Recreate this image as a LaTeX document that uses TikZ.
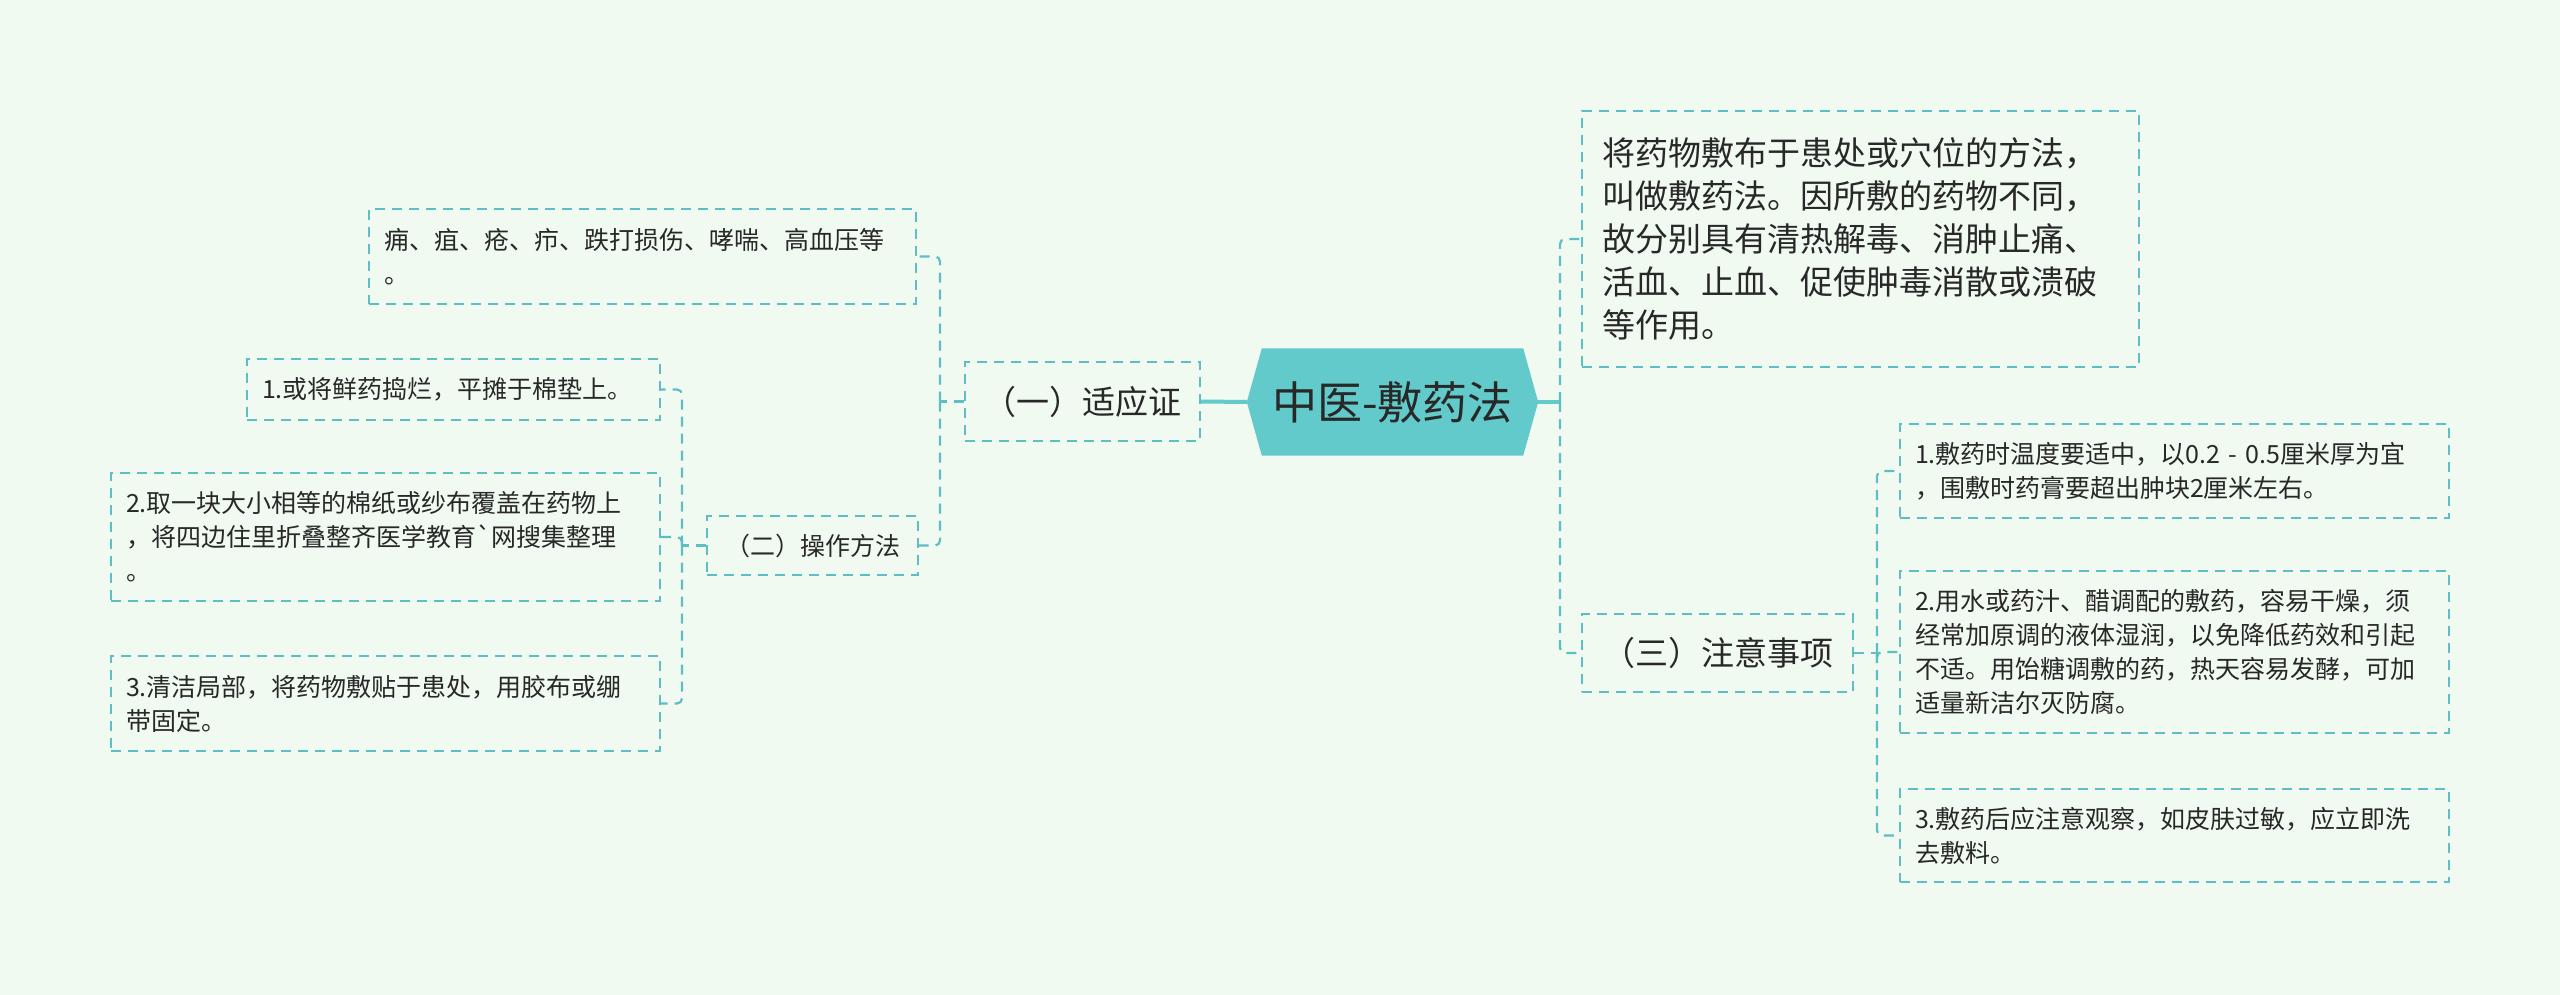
\documentclass[tikz,border=0pt]{standalone}
\usepackage{fontspec}
\setmainfont{Noto Sans CJK SC}
\usetikzlibrary{calc}
\definecolor{bgc}{RGB}{240,250,241}
\definecolor{hexc}{RGB}{99,202,204}
\definecolor{linec}{RGB}{94,190,196}
\definecolor{txtc}{RGB}{40,40,40}
\pgfdeclarelayer{bglayer}
\pgfsetlayers{bglayer,main}
\tikzset{
  dbox/.style={draw=linec, line width=2.2pt, dash pattern=on 10pt off 7pt, text=txtc, inner xsep=15pt, inner ysep=0pt, align=left, anchor=center},
  smalltxt/.style={font=\fontsize{25pt}{34pt}\selectfont},
  bigtxt/.style={font=\fontsize{33pt}{43pt}\selectfont},
  conn/.style={draw=linec, line width=2.2pt, dash pattern=on 10pt off 7pt, rounded corners=5pt},
  solidconn/.style={draw=hexc, line width=4pt},
}
\begin{document}
\begin{tikzpicture}[x=1pt,y=-1pt]
\useasboundingbox (0,0) rectangle (2560,995);
% root
\node[text=txtc, font=\fontsize{45pt}{54pt}\selectfont, minimum width=291pt, minimum height=107pt, inner sep=0pt] (root) at (1392.5,402) {中医-敷药法};
% left side
\node[dbox,bigtxt,text width=205pt,minimum height=79pt,align=center] (c1) at (1082.5,401.5) {（一）适应证};
\node[dbox,smalltxt,text width=517pt,minimum height=95pt] (yong) at (642.5,256.5) {痈、疽、疮、疖、跌打损伤、哮喘、高血压等\\。};
\node[dbox,smalltxt,text width=181pt,minimum height=59pt,align=center] (op) at (812.5,545.5) {（二）操作方法};
\node[dbox,smalltxt,text width=383pt,minimum height=61pt] (i1) at (453.5,389.5) {1.或将鲜药捣烂，平摊于棉垫上。};
\node[dbox,smalltxt,text width=519pt,minimum height=128pt] (i2) at (385.5,537) {2.取一块大小相等的棉纸或纱布覆盖在药物上\\，将四边住里折叠整齐医学教育\textasciigrave{}网搜集整理\\。};
\node[dbox,smalltxt,text width=519pt,minimum height=95pt] (i3) at (385.5,703.5) {3.清洁局部，将药物敷贴于患处，用胶布或绷\\带固定。};
% right side
\node[dbox,bigtxt,inner xsep=20pt,text width=517pt,minimum height=256pt] (desc) at (1860.5,239) {将药物敷布于患处或穴位的方法，\\叫做敷药法。因所敷的药物不同，\\故分别具有清热解毒、消肿止痛、\\活血、止血、促使肿毒消散或溃破\\等作用。};
\node[dbox,bigtxt,text width=241pt,minimum height=78pt,align=center] (c3) at (1717.5,653) {（三）注意事项};
\node[dbox,smalltxt,text width=519pt,minimum height=94pt] (r1) at (2174.5,471) {1.敷药时温度要适中，以0.2 - 0.5厘米厚为宜\\，围敷时药膏要超出肿块2厘米左右。};
\node[dbox,smalltxt,text width=519pt,minimum height=162pt] (r2) at (2174.5,652) {2.用水或药汁、醋调配的敷药，容易干燥，须\\经常加原调的液体湿润，以免降低药效和引起\\不适。用饴糖调敷的药，热天容易发酵，可加\\适量新洁尔灭防腐。};
\node[dbox,smalltxt,text width=519pt,minimum height=93pt] (r3) at (2174.5,835.5) {3.敷药后应注意观察，如皮肤过敏，应立即洗\\去敷料。};
% junctions
\coordinate (jL) at (940,401.5);
\coordinate (jO) at (682,545.5);
\coordinate (jR) at (1560,402);
\coordinate (jR2) at (1877,653);
% background and hexagon
\begin{pgfonlayer}{bglayer}
\fill[bgc] (0,0) rectangle (2560,995);
\fill[hexc] (root.west) -- ($(root.north west)+(15,0)$) -- ($(root.north east)+(-15,0)$) -- (root.east) -- ($(root.south east)+(-15,0)$) -- ($(root.south west)+(15,0)$) -- cycle;
\end{pgfonlayer}
% connectors
\draw[solidconn] (c1.east) -- (root.west);
\draw[solidconn] (root.east) -- (jR);
\draw[conn] (c1.west) -- (jL);
\draw[conn] (jL) |- (yong.east);
\draw[conn] (jL) |- (op.east);
\draw[conn] (op.west) -- (jO);
\draw[conn] (jO) |- (i1.east);
\draw[conn] (jO) |- (i2.east);
\draw[conn] (jO) |- (i3.east);
\draw[conn] (jR) |- (desc.west);
\draw[conn] (jR) |- (c3.west);
\draw[conn] (c3.east) -- (jR2);
\draw[conn] (jR2) |- (r1.west);
\draw[conn] (jR2) |- (r2.west);
\draw[conn] (jR2) |- (r3.west);
\end{tikzpicture}
\end{document}
